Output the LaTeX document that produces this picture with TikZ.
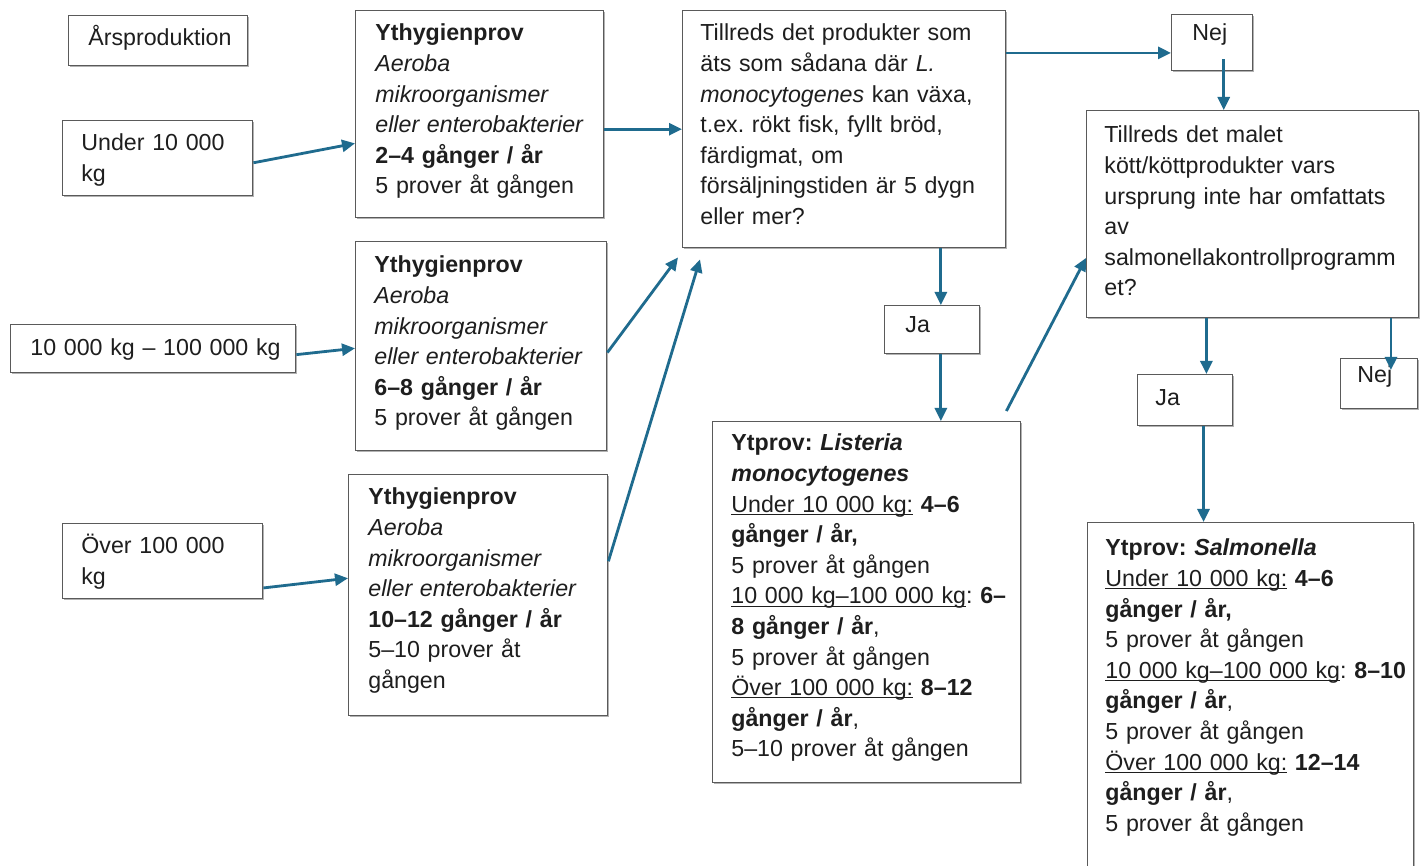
\documentclass[tikz,border=0pt]{standalone}
\usepackage{fontspec}
\setmainfont{Liberation Sans}
\usetikzlibrary{arrows.meta,calc,shadows}
\definecolor{arrowc}{HTML}{1F6B8E}
\definecolor{textc}{HTML}{1E1E1E}
\definecolor{boxc}{HTML}{5A5A5A}
\frenchspacing
\newcommand\fs{\fontsize{11.6}{15.3}\selectfont\frenchspacing}
\newcommand\uln[1]{\leavevmode\setbox0=\hbox{#1}\rlap{\rule[-1.4pt]{\wd0}{0.5pt}}\box0\relax}
\newcommand\mybox[8]{%
  \node[box, minimum width={#4*0.5pt}, minimum height={#5*0.5pt}] (#1) at (#2,#3) {};
  \node[txt] (#1-t) at ([shift={(#6,#7)}]#1.north west) {\strut #8};
}
\tikzset{
  box/.style={draw=boxc, line width=0.7pt, fill=white, anchor=north west, inner sep=0pt,
    drop shadow={shadow xshift=0.8pt, shadow yshift=-0.8pt, fill=black!50, opacity=0.6}},
  txt/.style={anchor=north west, inner sep=0pt, align=left, text width=190pt, font=\fs, text=textc},
  arr/.style={draw=arrowc, line width=1.4pt, -{Triangle[length=6.5pt,width=6pt]}},
}
\begin{document}
\begin{tikzpicture}[x=0.5pt,y=-0.5pt]
\path[use as bounding box, fill=white] (0,0) rectangle (1426,866);

% left column
\mybox{ars}{68}{15}{179}{50}{20}{9}{Årsproduktion}
\mybox{u}{62}{120}{190}{75}{19}{9}{Under 10~000\\kg}
\mybox{m}{10}{324}{285}{48}{20}{10}{10~000 kg – 100~000 kg}
\mybox{o}{62}{523}{200}{75}{19}{9}{Över 100~000\\kg}

% Ythygienprov boxes
\mybox{y1}{355}{10}{248}{207}{20}{9}{\textbf{Ythygienprov}\\\textit{Aeroba}\\\textit{mikroorganismer}\\\textit{eller enterobakterier}\\\textbf{2–4 gånger / år}\\5 prover åt gången}
\mybox{y2}{355}{241}{251}{209}{19}{10}{\textbf{Ythygienprov}\\\textit{Aeroba}\\\textit{mikroorganismer}\\\textit{eller enterobakterier}\\\textbf{6–8 gånger / år}\\5 prover åt gången}
\mybox{y3}{348}{474}{259}{241}{20}{9}{\textbf{Ythygienprov}\\\textit{Aeroba}\\\textit{mikroorganismer}\\\textit{eller enterobakterier}\\\textbf{10–12 gånger / år}\\5–10 prover åt\\gången}

% questions
\mybox{t1}{682}{10}{323}{237}{18}{9}{Tillreds det produkter som\\äts som sådana där \textit{L.}\\\textit{monocytogenes} kan växa,\\t.ex. rökt fisk, fyllt bröd,\\färdigmat, om\\försäljningstiden är 5 dygn\\eller mer?}
\mybox{nej1}{1171}{14}{81}{56}{21}{5}{Nej}
\mybox{t2}{1086}{110}{332}{207}{18}{11}{Tillreds det malet\\kött/köttprodukter vars\\ursprung inte har omfattats\\av\\salmonellakontrollprogramm\\et?}
\mybox{ja1}{884}{305}{95}{48}{21}{6}{Ja}
\mybox{ja2}{1137}{374}{95}{51}{18}{10}{Ja}
\mybox{nej2}{1340}{358}{77}{50}{17}{3}{Nej}

% sampling boxes
\mybox{L}{712}{421}{308}{361}{19}{8}{\textbf{Ytprov: \textit{Listeria}}\\\textbf{\textit{monocytogenes}}\\\uln{Under 10~000 kg:} \textbf{4–6}\\\textbf{gånger / år,}\\5 prover åt gången\\\uln{10~000 kg–100~000 kg}: \textbf{6–}\\\textbf{8 gånger / år},\\5 prover åt gången\\\uln{Över 100~000 kg:} \textbf{8–12}\\\textbf{gånger / år},\\5–10 prover åt gången}
\mybox{S}{1087}{522}{326}{400}{18}{12}{\textbf{Ytprov: \textit{Salmonella}}\\\uln{Under 10~000 kg:} \textbf{4–6}\\\textbf{gånger / år,}\\5 prover åt gången\\\uln{10~000 kg–100~000 kg}: \textbf{8–10}\\\textbf{gånger / år},\\5 prover åt gången\\\uln{Över 100~000 kg:} \textbf{12–14}\\\textbf{gånger / år},\\5 prover åt gången}

% connectors
\draw[arr] ($(u.north east)!0.56!(u.south east)$) -- ($(y1.north west)!0.64!(y1.south west)$);
\draw[arr] (t1.west -| y1.east) -- (t1.west);
\draw[arr] ($(m.north east)!0.62!(m.south east)$) -- ($(y2.north west)!0.51!(y2.south west)$);
\draw[arr] ($(y2.north east)!0.53!(y2.south east)$) -- ([shift={(-4,9)}]t1.south west);
\draw[arr] ($(o.north east)!0.85!(o.south east)$) -- ($(y3.north west)!0.43!(y3.south west)$);
\draw[arr] ($(y3.north east)!0.36!(y3.south east)$) -- ([shift={(18,11)}]t1.south west);

\coordinate (c7) at ($(t1.north east)!0.18!(t1.south east)$);
\draw[arr] (c7) -- (c7 -| nej1.west);
\coordinate (c8) at ($(nej1.south west)!0.64!(nej1.south east)$);
\draw[arr] ([yshift=6pt]c8) -- (c8 |- t2.north);
\coordinate (c9) at ($(ja1.north west)!0.59!(ja1.north east)$);
\draw[arr] (c9 |- t1.south) -- (c9);
\coordinate (c10) at ($(ja1.south west)!0.59!(ja1.south east)$);
\draw[arr] (c10) -- (c10 |- L.north);
\draw[arr] ([shift={(-15,-10)}]L.north east) -- ($(t2.north west)!0.71!(t2.south west)$);
\coordinate (c12) at ($(ja2.north west)!0.72!(ja2.north east)$);
\draw[arr] (c12 |- t2.south) -- (c12);
\coordinate (c13) at ($(nej2.north west)!0.65!(nej2.north east)$);
\draw[arr] (c13 |- t2.south) -- ([yshift=-6pt]c13);
\coordinate (c14) at ($(ja2.south west)!0.69!(ja2.south east)$);
\draw[arr] (c14) -- (c14 |- S.north);
\end{tikzpicture}
\end{document}
